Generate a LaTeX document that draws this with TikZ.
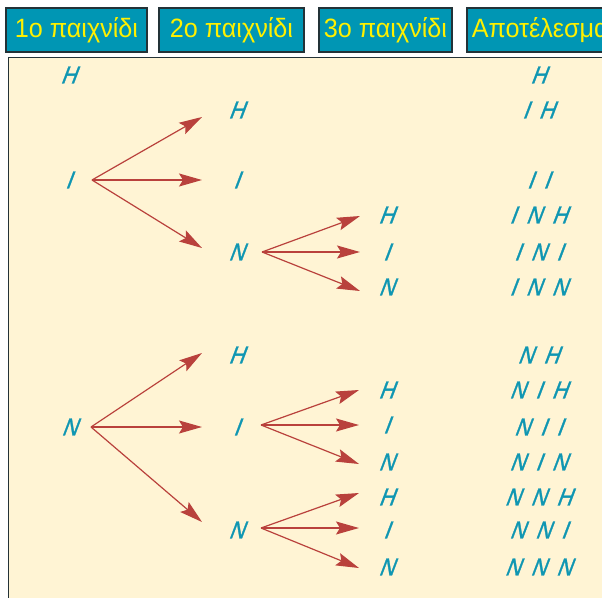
\documentclass[tikz,border=0pt]{standalone}
\usepackage{fontspec}
\setmainfont{Liberation Sans}
\newfontfamily\hdrfont[FakeStretch=0.95]{Liberation Sans}
\newfontfamily\letfont[FakeSlant=0.38,FakeStretch=0.86,FakeBold=1.2]{Liberation Sans}
\usetikzlibrary{arrows.meta}
\definecolor{hdrfill}{RGB}{0,150,180}
\definecolor{hdrtext}{RGB}{255,240,0}
\definecolor{hdrline}{RGB}{35,50,55}
\definecolor{panelc}{RGB}{255,244,212}
\definecolor{letc}{RGB}{15,150,178}
\definecolor{arrc}{RGB}{185,65,60}
\newcommand\gp{\hspace{10.5pt}}
\begin{document}
\begin{tikzpicture}[x=1pt,y=-1pt,
  hdr/.style={draw=hdrline,line width=1.5pt,fill=hdrfill,text=hdrtext,
    font=\hdrfont\fontsize{26.5}{30}\selectfont,minimum height=44pt,inner xsep=0pt},
  lt/.style={text=letc,font=\letfont\fontsize{24.5}{28}\selectfont,inner sep=0pt},
  arr/.style={draw=arrc,line width=1.2pt,-{Stealth[length=23pt,width=13pt,inset=4pt]}}]
\useasboundingbox (0,0) rectangle (602,597);
\clip (0,0) rectangle (602,597);
\fill[white] (0,0) rectangle (602,597);
% panel
\fill[panelc] (8.5,57.5) rectangle (620,620);
\draw[hdrline,line width=1.2pt] (8.5,620) -- (8.5,57.5) -- (620,57.5);
% headers
\node[hdr,minimum width=141pt] (h1) at (76.5,30) {1ο παιχνίδι};
\node[hdr,minimum width=145pt] (h2) at (231.5,30) {2ο παιχνίδι};
\node[hdr,minimum width=133pt] (h3) at (385.5,30) {3ο παιχνίδι};
\node[hdr,anchor=west,text width=150pt,align=left,inner xsep=5pt] (h4) at (466,30) {Αποτέλεσμα};
% tree 1
\node[lt] (a0) at (68,75) {H};
\node[lt] (a1) at (68,180) {I};
\node[lt] (a1h) at (236,110) {H};
\node[lt] (a1i) at (236,180) {I};
\node[lt] (a1n) at (236,252) {N};
\node[lt] (a1nh) at (386,215) {H};
\node[lt] (a1ni) at (386,252) {I};
\node[lt] (a1nn) at (386,287) {N};
% tree 2
\node[lt] (b0) at (69,427) {N};
\node[lt] (b0h) at (236,355) {H};
\node[lt] (b0i) at (236,427) {I};
\node[lt] (b0n) at (236,530) {N};
\node[lt] (b0ih) at (386,390) {H};
\node[lt] (b0ii) at (386,425) {I};
\node[lt] (b0in) at (386,462) {N};
\node[lt] (b0nh) at (386,497) {H};
\node[lt] (b0ni) at (386,530) {I};
\node[lt] (b0nn) at (386,567) {N};
% results
\node[lt] (r1) at (538,75) {H};
\node[lt] (r2) at (538,110) {I\gp H};
\node[lt] (r3) at (538,180) {I\gp I};
\node[lt] (r4) at (538,215) {I\gp N\gp H};
\node[lt] (r5) at (538,252) {I\gp N\gp I};
\node[lt] (r6) at (538,287) {I\gp N\gp N};
\node[lt] (r7) at (538,355) {N\gp H};
\node[lt] (r8) at (538,390) {N\gp I\gp H};
\node[lt] (r9) at (538,427) {N\gp I\gp I};
\node[lt] (r10) at (538,462) {N\gp I\gp N};
\node[lt] (r11) at (538,497) {N\gp N\gp H};
\node[lt] (r12) at (538,530) {N\gp N\gp I};
\node[lt] (r13) at (538,567) {N\gp N\gp N};
% arrows tree 1
\draw[arr] ([xshift=24pt]a1.center) -- ([xshift=-34pt,yshift=-7pt]a1h.center);
\draw[arr] ([xshift=24pt]a1.center) -- ([xshift=-34pt]a1i.center);
\draw[arr] ([xshift=24pt]a1.center) -- ([xshift=-34pt,yshift=4pt]a1n.center);
\draw[arr] ([xshift=26pt]a1n.center) -- ([xshift=-26pt,yshift=-1pt]a1nh.center);
\draw[arr] ([xshift=26pt]a1n.center) -- ([xshift=-26pt]a1ni.center);
\draw[arr] ([xshift=26pt]a1n.center) -- ([xshift=-26pt,yshift=-4pt]a1nn.center);
% arrows tree 2
\draw[arr] ([xshift=22pt]b0.center) -- ([xshift=-34pt,yshift=2pt]b0h.center);
\draw[arr] ([xshift=22pt]b0.center) -- ([xshift=-34pt]b0i.center);
\draw[arr] ([xshift=22pt]b0.center) -- ([xshift=-34pt,yshift=8pt]b0n.center);
\draw[arr] ([xshift=25pt,yshift=2pt]b0i.center) -- ([xshift=-27pt]b0ih.center);
\draw[arr] ([xshift=25pt,yshift=2pt]b0i.center) -- ([xshift=-27pt]b0ii.center);
\draw[arr] ([xshift=25pt,yshift=2pt]b0i.center) -- ([xshift=-27pt,yshift=-2pt]b0in.center);
\draw[arr] ([xshift=25pt,yshift=2pt]b0n.center) -- ([xshift=-27pt,yshift=4pt]b0nh.center);
\draw[arr] ([xshift=25pt,yshift=2pt]b0n.center) -- ([xshift=-27pt,yshift=2pt]b0ni.center);
\draw[arr] ([xshift=25pt,yshift=2pt]b0n.center) -- ([xshift=-27pt,yshift=-1pt]b0nn.center);
\end{tikzpicture}
\end{document}
